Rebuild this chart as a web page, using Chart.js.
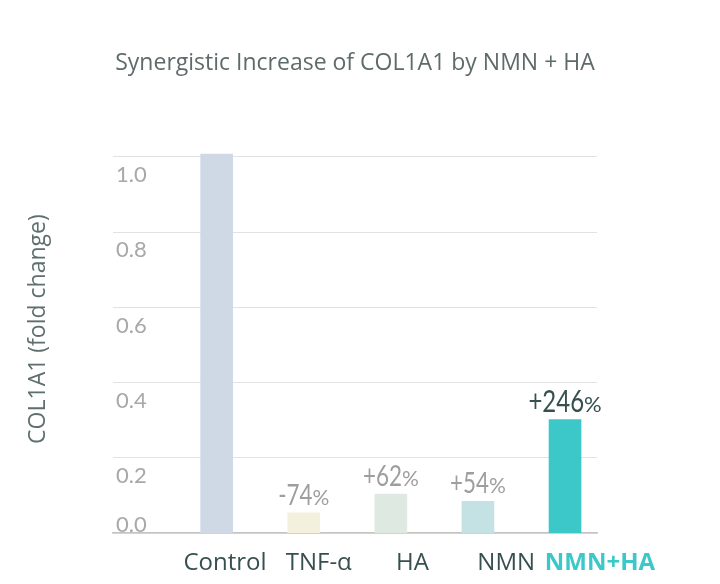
<!DOCTYPE html>
<html>
<head>
<meta charset="utf-8">
<script src="https://cdn.jsdelivr.net/npm/chart.js@4"></script>
<style>
  html, body { margin: 0; padding: 0; background: #ffffff; }
  #wrap { width: 720px; height: 584px; }
</style>
</head>
<body>
<div id="wrap"><canvas id="grafico" width="720" height="584"></canvas></div>
<script>
// ====== datos ======
const categorias = ['Control', 'TNF-α', 'HA', 'NMN', 'NMN+HA'];
const valores = [1.008, 0.054, 0.104, 0.085, 0.302];
const etiquetas = ['', '-74', '+62', '+54', '+246'];
const ticksY = [0, 0.2, 0.4, 0.6, 0.8, 1.0];
const colores = ['#cfd9e6', '#f3f1dd', '#dde9e1', '#c4e2e4', '#3cc8c9'];

// Etiquetas encima de cada barra: numero grande (angosto) + "%" chico
const pluginEtiquetas = {
    id: 'etiquetas',
    afterDatasetsDraw(chart) {
        const ctx = chart.ctx;
        const meta = chart.getDatasetMeta(0);
        const angosto = 0.8;
        meta.data.forEach((bar, i) => {
            const txt = etiquetas[i];
            if (!txt) return;
            const ultimo = i === etiquetas.length - 1;
            const fNum = (ultimo ? 30 : 28) + 'px Lato, sans-serif';
            const fPct = (ultimo ? 22 : 21) + 'px Lato, sans-serif';
            ctx.save();
            ctx.fillStyle = ultimo ? '#37504f' : '#9e9e9e';
            ctx.textBaseline = 'alphabetic';
            ctx.textAlign = 'left';
            ctx.font = fNum;
            const w1 = ctx.measureText(txt).width * angosto;
            ctx.font = fPct;
            const w2 = ctx.measureText('%').width;
            const x0 = bar.x - (w1 + w2) / 2;
            const y0 = bar.y - 8;
            ctx.save();
            ctx.translate(x0, y0);
            ctx.scale(angosto, 1);
            ctx.font = fNum;
            ctx.fillText(txt, 0, 0);
            ctx.restore();
            ctx.font = fPct;
            ctx.fillText('%', x0 + w1, y0);
            ctx.restore();
        });
    }
};

new Chart(document.getElementById('grafico'), {
    type: 'bar',
    data: {
        datasets: [{
            data: valores.map((v, i) => ({ x: i, y: v })),
            backgroundColor: colores,
            borderWidth: 0,
            barThickness: 32
        }]
    },
    options: {
        responsive: false,
        animation: false,
        layout: { padding: { left: 20, right: 123, bottom: -10, top: 0 } },
        plugins: {
            legend: { display: false },
            tooltip: { enabled: false },
            title: {
                display: true,
                fullSize: false,
                text: 'Synergistic Increase of COL1A1 by NMN + HA',
                color: '#5f6b6b',
                font: { family: '"Open Sans"', size: 23, weight: 'normal' },
                padding: { top: 50, bottom: 47.4 }
            }
        },
        scales: {
            x: {
                type: 'linear',
                min: -1.19,
                max: 4.367,
                offset: false,
                weight: 0,
                ticks: { display: false, padding: 0 },
                grid: { display: false, drawTicks: false },
                border: { display: true, color: '#c4c4c4', width: 1.5 }
            },
            // eje aparte solo para los nombres (van un poco mas separados que las barras)
            xEt: {
                type: 'linear',
                position: 'bottom',
                min: -0.6,
                max: 4.563,
                offset: false,
                weight: 1,
                afterBuildTicks: (s) => { s.ticks = categorias.map((c, i) => ({ value: i })); },
                grid: { display: false, drawTicks: false },
                border: { display: false },
                ticks: {
                    padding: 16,
                    labelOffset: 55.75,
                    maxRotation: 0,
                    autoSkip: false,
                    callback: (v) => categorias[v],
                    color: (c) => c.index === 4 ? '#3cc8c9' : '#37504f',
                    font: (c) => ({ family: '"Open Sans"', size: 24, weight: c.index === 4 ? 'bold' : 'normal' })
                }
            },
            y: {
                min: 0,
                max: 1.085,
                afterBuildTicks: (s) => { s.ticks = ticksY.map(v => ({ value: v })); },
                afterFit: (s) => { s.width = 93; },
                grid: { color: '#e2e2e2', lineWidth: 1, drawTicks: false },
                border: { display: false },
                ticks: {
                    mirror: true,
                    autoSkip: false,
                    padding: 3,
                    labelOffset: 18,
                    color: '#a8a8a8',
                    font: { family: 'Lato', size: 22 },
                    // el 0.0 va por encima de su linea: se sube con lineas vacias
                    callback: (v) => v === 0 ? ['0.0', '', ''] : v.toFixed(1)
                },
                title: {
                    display: true,
                    text: 'COL1A1 (fold change)',
                    color: '#5f6e6e',
                    font: { family: '"Open Sans"', size: 23 },
                    padding: { top: 5, bottom: 0 }
                }
            }
        }
    },
    plugins: [pluginEtiquetas]
});
</script>
</body>
</html>
